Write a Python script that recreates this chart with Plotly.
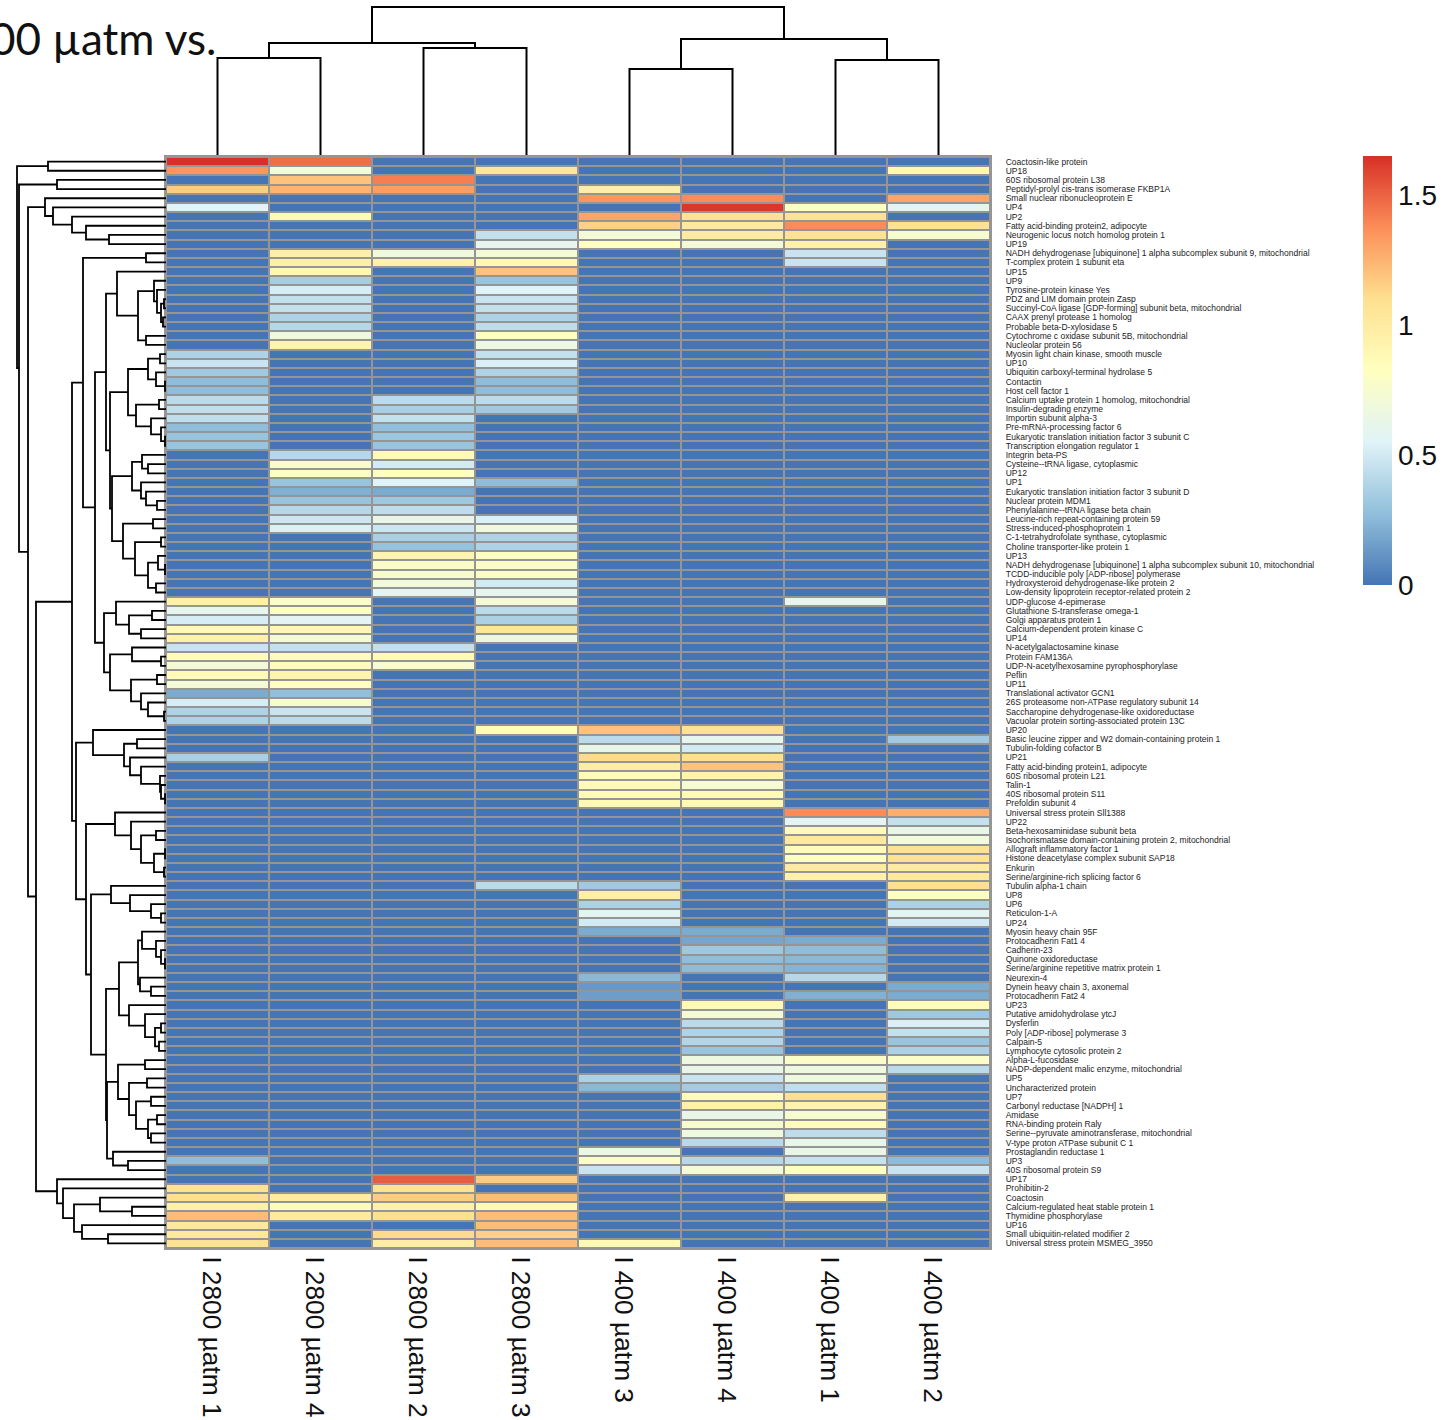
import plotly.graph_objects as go

col_labels = ["I 2800 µatm 1","I 2800 µatm 4","I 2800 µatm 2","I 2800 µatm 3","I 400 µatm 3","I 400 µatm 4","I 400 µatm 1","I 400 µatm 2"]
row_labels = ["Coactosin-like protein","UP18","60S ribosomal protein L38","Peptidyl-prolyl cis-trans isomerase FKBP1A","Small nuclear ribonucleoprotein E","UP4","UP2","Fatty acid-binding protein2, adipocyte","Neurogenic locus notch homolog protein 1","UP19",
"NADH dehydrogenase [ubiquinone] 1 alpha subcomplex subunit 9, mitochondrial","T-complex protein 1 subunit eta","UP15","UP9","Tyrosine-protein kinase Yes","PDZ and LIM domain protein Zasp","Succinyl-CoA ligase [GDP-forming] subunit beta, mitochondrial","CAAX prenyl protease 1 homolog","Probable beta-D-xylosidase 5","Cytochrome c oxidase subunit 5B, mitochondrial",
"Nucleolar protein 56","Myosin light chain kinase, smooth muscle","UP10","Ubiquitin carboxyl-terminal hydrolase 5","Contactin","Host cell factor 1","Calcium uptake protein 1 homolog, mitochondrial","Insulin-degrading enzyme","Importin subunit alpha-3","Pre-mRNA-processing factor 6",
"Eukaryotic translation initiation factor 3 subunit C","Transcription elongation regulator 1","Integrin beta-PS","Cysteine--tRNA ligase, cytoplasmic","UP12","UP1","Eukaryotic translation initiation factor 3 subunit D","Nuclear protein MDM1","Phenylalanine--tRNA ligase beta chain","Leucine-rich repeat-containing protein 59",
"Stress-induced-phosphoprotein 1","C-1-tetrahydrofolate synthase, cytoplasmic","Choline transporter-like protein 1","UP13","NADH dehydrogenase [ubiquinone] 1 alpha subcomplex subunit 10, mitochondrial","TCDD-inducible poly [ADP-ribose] polymerase","Hydroxysteroid dehydrogenase-like protein 2","Low-density lipoprotein receptor-related protein 2","UDP-glucose 4-epimerase","Glutathione S-transferase omega-1",
"Golgi apparatus protein 1","Calcium-dependent protein kinase C","UP14","N-acetylgalactosamine kinase","Protein FAM136A","UDP-N-acetylhexosamine pyrophosphorylase","Peflin","UP11","Translational activator GCN1","26S proteasome non-ATPase regulatory subunit 14",
"Saccharopine dehydrogenase-like oxidoreductase","Vacuolar protein sorting-associated protein 13C","UP20","Basic leucine zipper and W2 domain-containing protein 1","Tubulin-folding cofactor B","UP21","Fatty acid-binding protein1, adipocyte","60S ribosomal protein L21","Talin-1","40S ribosomal protein S11",
"Prefoldin subunit 4","Universal stress protein Sll1388","UP22","Beta-hexosaminidase subunit beta","Isochorismatase domain-containing protein 2, mitochondrial","Allograft inflammatory factor 1","Histone deacetylase complex subunit SAP18","Enkurin","Serine/arginine-rich splicing factor 6","Tubulin alpha-1 chain",
"UP8","UP6","Reticulon-1-A","UP24","Myosin heavy chain 95F","Protocadherin Fat1 4","Cadherin-23","Quinone oxidoreductase","Serine/arginine repetitive matrix protein 1","Neurexin-4",
"Dynein heavy chain 3, axonemal","Protocadherin Fat2 4","UP23","Putative amidohydrolase ytcJ","Dysferlin","Poly [ADP-ribose] polymerase 3","Calpain-5","Lymphocyte cytosolic protein 2","Alpha-L-fucosidase","NADP-dependent malic enzyme, mitochondrial",
"UP5","Uncharacterized protein","UP7","Carbonyl reductase [NADPH] 1","Amidase","RNA-binding protein Raly","Serine--pyruvate aminotransferase, mitochondrial","V-type proton ATPase subunit C 1","Prostaglandin reductase 1","UP3",
"40S ribosomal protein S9","UP17","Prohibitin-2","Coactosin","Calcium-regulated heat stable protein 1","Thymidine phosphorylase","UP16","Small ubiquitin-related modifier 2","Universal stress protein MSMEG_3950"]

values = [
[1.65,1.47,0,0,0,0,0,0],[1.35,.70,0,1.05,0,0,0,.90],[0,1.20,1.42,0,0,0,0,0],[1.17,1.25,1.32,0,.98,0,0,0],[0,0,0,0,1.35,1.38,0,1.30],
[.55,0,0,0,0,1.63,.82,.58],[0,.87,0,0,1.30,1.08,1.08,0],[0,0,0,0,1.15,1.02,1.38,1.08],[0,0,0,.45,.72,1.00,1.08,.75],[0,0,0,.60,.82,.72,.95,0],
[0,.97,.68,.72,0,0,.47,0],[0,.97,.95,.90,0,0,.47,0],[0,.90,0,1.20,0,0,0,0],[0,.35,0,.30,0,0,0,0],[0,.52,0,.55,0,0,0,0],
[0,.45,0,.47,0,0,0,0],[0,.45,0,.45,0,0,0,0],[0,.38,0,.38,0,0,0,0],[0,.40,0,.43,0,0,0,0],[0,.68,0,.80,0,0,0,0],
[0,.93,0,.66,0,0,0,0],[.38,0,0,.45,0,0,0,0],[.47,0,0,.53,0,0,0,0],[.33,0,0,.38,0,0,0,0],[.27,0,0,.27,0,0,0,0],
[.27,0,0,.27,0,0,0,0],[.42,0,.42,.42,0,0,0,0],[.44,0,.36,.33,0,0,0,0],[.44,0,.45,0,0,0,0,0],[.27,0,.28,0,0,0,0,0],
[.30,0,.31,0,0,0,0,0],[.30,0,.30,0,0,0,0,0],[0,.40,.88,0,0,0,0,0],[0,.78,.50,0,0,0,0,0],[0,.80,.82,0,0,0,0,0],
[0,.30,.55,.27,0,0,0,0],[0,.22,.20,0,0,0,0,0],[0,.30,.32,0,0,0,0,0],[0,.40,.43,0,0,0,0,0],[0,.48,.63,.53,0,0,0,0],
[0,.53,.48,.68,0,0,0,0],[0,0,.36,.38,0,0,0,0],[0,0,.29,.38,0,0,0,0],[0,0,.92,.82,0,0,0,0],[0,0,.78,.78,0,0,0,0],
[0,0,.75,.78,0,0,0,0],[0,0,.70,.50,0,0,0,0],[0,0,.58,.60,0,0,0,0],[.96,.78,0,.72,0,0,.62,0],[.60,.80,0,.42,0,0,0,0],
[.52,.58,0,.37,0,0,0,0],[.88,.90,0,1.05,0,0,0,0],[.95,.72,0,.65,0,0,0,0],[.47,.45,.45,0,0,0,0,0],[.85,.85,.87,0,0,0,0,0],
[.72,.85,.75,0,0,0,0,0],[.87,.93,0,0,0,0,0,0],[.72,.82,0,0,0,0,0,0],[.20,.28,0,0,0,0,0,0],[.52,.74,0,0,0,0,0,0],
[.38,.47,0,0,0,0,0,0],[.38,.42,0,0,0,0,0,0],[0,0,0,.86,1.20,1.08,0,0],[0,0,0,0,.42,.60,0,.33],[0,0,0,0,.62,.50,0,0],
[.36,0,0,0,1.12,1.10,0,0],[0,0,0,0,.98,1.20,0,0],[0,0,0,0,.85,.93,0,0],[0,0,0,0,.87,.75,0,0],[0,0,0,0,.87,.87,0,0],
[0,0,0,0,.88,.88,0,0],[0,0,0,0,0,0,1.38,1.27],[0,0,0,0,0,0,.58,.45],[0,0,0,0,0,0,.88,.63],[0,0,0,0,0,0,1.03,.70],
[0,0,0,0,0,0,.86,1.08],[0,0,0,0,0,0,.80,1.08],[0,0,0,0,0,0,1.00,1.00],[0,0,0,0,0,0,.95,1.03],[0,0,0,.42,.33,0,0,1.10],
[0,0,0,0,.97,0,0,.80],[0,0,0,0,.37,0,0,.37],[0,0,0,0,.58,0,0,.58],[0,0,0,0,.50,0,0,.50],[0,0,0,0,.20,.20,0,0],
[0,0,0,0,0,.18,.20,0],[0,0,0,0,0,.32,.27,0],[0,0,0,0,0,.27,.25,0],[0,0,0,0,0,.26,.23,0],[0,0,0,0,.25,0,.40,0],
[0,0,0,0,.13,0,0,.20],[0,0,0,0,.15,0,.22,.20],[0,0,0,0,0,.88,0,.85],[0,0,0,0,0,.72,0,.32],[0,0,0,0,0,.42,0,.53],
[0,0,0,0,0,.38,0,.45],[0,0,0,0,0,.39,0,.30],[0,0,0,0,0,.30,0,.37],[0,0,0,0,0,.67,.78,.78],[0,0,0,0,0,.63,.67,.42],
[0,0,0,0,.37,.47,.68,0],[0,0,0,0,.25,.34,.44,0],[0,0,0,0,0,.86,1.10,0],[0,0,0,0,0,.95,.93,0],[0,0,0,0,0,.63,.75,0],
[0,0,0,0,0,.75,.85,0],[0,0,0,0,0,.68,.43,0],[0,0,0,0,0,.41,.62,0],[0,0,0,0,.66,0,.63,0],[.27,0,0,0,.78,.40,.46,.26],
[0,0,0,0,.47,.72,.80,.47],[0,0,1.52,1.17,0,0,0,0],[1.08,0,1.08,0,0,0,0,0],[1.10,1.00,1.17,1.22,0,0,.95,0],[.95,.85,.95,.88,0,0,0,0],
[1.22,1.02,1.10,1.22,0,0,0,0],[1.03,0,0,1.22,0,0,0,0],[1.03,0,1.12,1.15,0,0,0,0],[1.08,0,.98,1.22,.88,0,0,0],
]

color_stops = ["#4575B4","#91BFDB","#E0F3F8","#FFFFBF","#FEE090","#FC8D59","#D73027"]
colorbar_ticks = [0, 0.5, 1, 1.5]
value_max = 1.65

# merge trees: (height, upper child, lower child); ints are 1-based leaves
col_tree = (148, (112, (97, 1, 2), (107, 3, 4)), (116, (86, 5, 6), (95, 7, 8)))

t_top = (121, 5, (113, 6, (94, 7, (80, 8, (57, 9, 10)))))
t_p = (12, 14, (9, 15, (5, (2, 16, 17), (3, 18, 19))))
t_m = (49, 13, (28, t_p, (20, 20, 21)))
t_s = (38, (18, (6, 22, 23), (10, 24, (1, 25, 26))), (30, (7, 27, 28), (15, 29, (5, 30, (1, 31, 32)))))
t_u = (34, (24, 33, (18, 34, 35)), (25, 36, (20, 37, (9, 38, 39))))
t_v = (43, (13, 40, 41), (31, (5, 42, 43), (18, (8, 44, (1, 45, 46)), (10, 47, 48))))
t_k = (60, t_m, (56, t_s, (54, t_u, t_v)))
t_ak = (50, 49, (37, (14, 50, 51), (25, 52, 53)))
t_al = (56, (34, 54, (5, 55, 56)), (35, (9, 57, 58), (25, 59, (18, 60, (2, 61, 62)))))
t_h = (83, (20, 11, 12), (71, t_k, (62, t_ak, t_al)))
t_as = (73, 63, (42, (29, 64, 65), (36, 66, (25, 67, (6, 68, (5, 69, (1, 70, 71)))))))
t_az = (51, 72, (35, 73, (25, (10, 74, 75), (12, (1, 76, 77), (2, 78, 79)))))
t_be = (55, 80, (36, 81, (15, 82, (5, 83, 84))))
t_bk = (28, (24, 85, (10, 86, (5, 87, (1, 88, 89)))), (26, 90, (15, 91, 92)))
t_bl = (37, 93, (21, 94, (11, (5, 95, 96), (7, 97, 98))))
t_bt = (48, (21, 99, 100), (37, (19, 101, 102), (30, (15, 103, 104), (18, (9, 105, 106), (15, 107, 108)))))
t_bu = (53, 109, (38, 110, 111))
t_ba = (75, t_be, (60, (47, t_bk, t_bl), (59, t_bt, t_bu)))
t_i = (90, t_as, (80, t_az, t_ba))
t_g = (109, 112, (103, 113, (92, (66, 114, (34, 115, 116)), (84, 117, (58, 118, 119)))))
row_tree = (149, (118, 1, 2), (147, (109, 3, 4), (138, t_top, (130, (94, t_h, t_i), t_g))))

W, H = 1456, 1420
HM_L, HM_R, HM_T, HM_B = 166, 990, 157, 1248
GRID = "#959595"


def hx(a, b):
    return [a / W, b / W]


def vy(top, bottom):
    return [1 - bottom / H, 1 - top / H]


def dendro(node, heights, positions):
    """Return (position, height) of node; append the bracket path to the lists."""
    if isinstance(node, int):
        return node - 1, 0
    h, a, b = node
    pa, ha = dendro(a, heights, positions)
    pb, hb = dendro(b, heights, positions)
    heights += [ha, h, h, hb, None]
    positions += [pa, pa, pb, pb, None]
    return (pa + pb) / 2, h


n = len(color_stops)
colorscale = [[i / (n - 1), c] for i, c in enumerate(color_stops)]

fig = go.Figure()
fig.add_trace(go.Heatmap(
    z=values, x=col_labels, y=row_labels, zmin=0, zmax=value_max, colorscale=colorscale,
    xgap=2, ygap=2, hoverongaps=False,
    colorbar=dict(
        x=1363 / W, xanchor="left", y=1 - 156 / H, yanchor="top", xpad=0, ypad=0,
        thicknessmode="pixels", thickness=29, lenmode="pixels", len=429,
        tickmode="array", tickvals=colorbar_ticks, ticktext=["0", "0.5", "1", "1.5"],
        ticks="outside", ticklen=1, tickcolor="rgba(0,0,0,0)", outlinewidth=0,
        tickfont=dict(family="Liberation Sans", size=28, color="#111111"),
    ),
))

hc, pc = [], []
dendro(col_tree, hc, pc)
fig.add_trace(go.Scatter(x=pc, y=hc, mode="lines", line=dict(color="black", width=2),
                         xaxis="x2", yaxis="y2", showlegend=False, hoverinfo="skip", cliponaxis=False))
hr, pr = [], []
dendro(row_tree, hr, pr)
fig.add_trace(go.Scatter(x=hr, y=pr, mode="lines", line=dict(color="black", width=1.8),
                         xaxis="x3", yaxis="y3", showlegend=False, hoverinfo="skip", cliponaxis=False))

hidden = dict(visible=False, showgrid=False, zeroline=False, fixedrange=True)
fig.update_layout(
    width=W, height=H, margin=dict(l=0, r=0, t=0, b=0, pad=0),
    paper_bgcolor="white", plot_bgcolor="white", showlegend=False,
    xaxis=dict(domain=hx(HM_L, HM_R), side="bottom", tickangle=90, tickmode="array",
               tickvals=col_labels, ticktext=col_labels, ticks="", showgrid=False, zeroline=False,
               ticklabelstandoff=1, ticklabelshift=-6,
               showline=True, mirror=True, linecolor=GRID, linewidth=2,
               tickfont=dict(family="Liberation Sans", size=26.3, color="#111111")),
    yaxis=dict(domain=vy(HM_T, HM_B), side="right", autorange="reversed", tickmode="array",
               tickvals=row_labels, ticktext=row_labels, ticks="", showgrid=False, zeroline=False,
               ticklabelstandoff=12,
               showline=True, mirror=True, linecolor=GRID, linewidth=2,
               tickfont=dict(family="Liberation Sans", size=8.5, color="#222222")),
    xaxis2=dict(domain=hx(HM_L, HM_R), range=[-0.5, 7.5], anchor="y2", **hidden),
    yaxis2=dict(domain=vy(0, 155), range=[0, 155], anchor="x2", **hidden),
    xaxis3=dict(domain=hx(0, HM_L), range=[166, 0], anchor="y3", **hidden),
    yaxis3=dict(domain=vy(HM_T, HM_B), range=[118.5, -0.5], anchor="x3", **hidden),
    shapes=[dict(type="rect", xref="x domain", yref="y domain", x0=0, x1=1, y0=0, y1=1,
                 fillcolor=GRID, line=dict(width=0), layer="below")],
    annotations=[dict(text="00 µatm vs.", xref="paper", yref="paper", x=218 / W, y=1 - 66 / H,
                      xanchor="right", yanchor="bottom", showarrow=False,
                      font=dict(family="Lato", size=44, color="#111111"))],
)
fig.write_html("out.html", config=dict(displayModeBar=False),
               post_script="document.body.style.margin='0';")
